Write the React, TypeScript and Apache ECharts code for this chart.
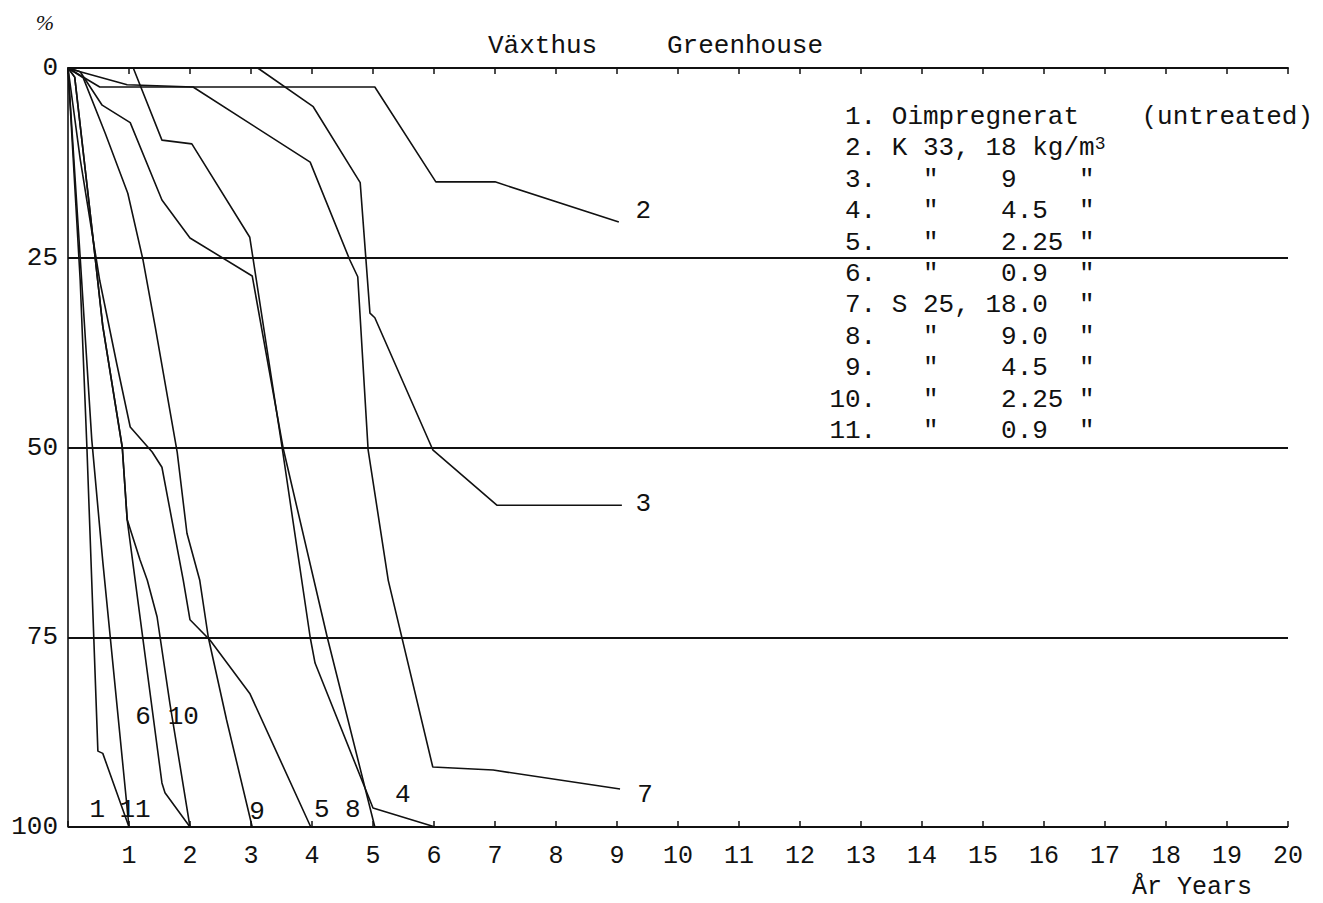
import React, { useEffect, useRef } from "react";
import * as echarts from "echarts";

const FONT = '"Liberation Mono", "DejaVu Sans Mono", monospace';

// x tick labels (years) and y ticks
const xTickLabels = ["", "1", "2", "3", "4", "5", "6", "7", "8", "9", "10", "11", "12", "13", "14", "15", "16", "17", "18", "19", "20"];

// Series: [year, % destroyed]
const s1 = [[0, 0], [0.2, 28], [0.31, 50], [0.49, 90], [0.57, 90.3], [1.0, 100]];
const s2 = [[0, 0], [0.52, 2.5], [5.03, 2.5], [6.03, 15], [7.0, 15], [9.03, 20.3]];
const s3 = [[0, 0], [3.11, 0], [4.02, 5.1], [4.79, 15.1], [4.95, 32.3], [5.03, 32.9], [5.98, 50.3], [7.03, 57.6], [9.08, 57.6]];
const s4 = [[1.07, 0], [1.54, 9.5], [2.03, 10], [2.98, 22.3], [3.51, 50], [3.97, 75], [4.05, 78.4], [5.0, 97.5], [6.02, 100]];
const s5 = [[0, 0], [0.2, 12], [0.52, 28], [0.8, 39], [1.02, 47.3], [1.38, 50.6], [1.54, 52.6], [1.89, 67.5], [2.0, 72.7], [2.33, 75.4], [2.98, 82.4], [3.98, 100]];
const s6 = [[0, 0], [0.11, 1.2], [0.39, 21], [0.57, 34], [0.89, 50], [0.97, 59.5], [1.54, 94.2], [1.59, 95.5], [2.0, 100]];
const s7 = [[0, 0], [0.2, 0.5], [0.97, 2.2], [2.05, 2.5], [3.97, 12.4], [4.62, 25.3], [4.75, 27.5], [4.92, 50.3], [5.25, 67.5], [5.98, 92.1], [6.97, 92.5], [9.05, 95]];
const s8 = [[0, 0], [0.2, 0.5], [0.56, 4.9], [1.02, 7.2], [1.54, 17.4], [2.0, 22.4], [3.02, 27.4], [3.53, 50.2], [4.25, 75], [5.03, 100]];
const s9 = [[0, 0], [0.25, 1.3], [0.61, 8.6], [0.98, 16.5], [1.23, 25.3], [1.43, 34.1], [1.79, 50.6], [1.95, 61.3], [2.16, 67.5], [2.3, 75], [2.6, 85.9], [3.02, 100]];
const s10 = [[0, 0], [0.11, 1.2], [0.39, 21], [0.57, 34], [0.89, 50], [0.97, 59.5], [1.18, 64.8], [1.3, 67.5], [1.46, 72.3], [1.67, 83.7], [2.0, 100]];
const s11 = [[0, 0], [0.2, 25], [0.39, 49], [0.57, 65], [1.0, 100]];

const allSeries = [s1, s2, s3, s4, s5, s6, s7, s8, s9, s10, s11];

// curve number labels, placed in data coordinates
const curveLabelText = ["1", "11", "6", "10", "9", "5", "8", "4", "2", "3", "7"];
const curveLabelPos = [[0.48, 97.8], [1.1, 97.8], [1.23, 85.5], [1.89, 85.5], [3.1, 98], [4.16, 97.8], [4.67, 97.8], [5.49, 95.8], [9.43, 18.8], [9.43, 57.4], [9.46, 95.8]];

// legend text lines (monospace columns)
const legendLines = [
  " 1. Oimpregnerat    (untreated)",
  " 2. K 33, 18 kg/m{sup|3}",
  " 3.   \"    9    \"",
  " 4.   \"    4.5  \"",
  " 5.   \"    2.25 \"",
  " 6.   \"    0.9  \"",
  " 7. S 25, 18.0  \"",
  " 8.   \"    9.0  \"",
  " 9.   \"    4.5  \"",
  "10.   \"    2.25 \"",
  "11.   \"    0.9  \"",
];

export default function App() {
  const ref = useRef<HTMLDivElement>(null);

  useEffect(() => {
    if (!ref.current) return;
    const chart = echarts.init(ref.current, null, { renderer: "svg" });

    const lineSeries = allSeries.map((d, i) => ({
      type: "line",
      name: "s" + (i + 1),
      data: d,
      symbol: "none",
      silent: true,
      lineStyle: { color: "#111", width: 1.6 },
      z: 3,
    }));

    const graphics: any[] = [];
    graphics.push({
      type: "text",
      x: 45,
      y: 22,
      style: { text: "%", fontSize: 22, fontFamily: "serif", fontStyle: "italic", fill: "#111", textAlign: "center", textVerticalAlign: "middle" },
    });
    graphics.push({
      type: "text",
      x: 488,
      y: 46,
      style: { text: "Växthus", fontSize: 26, fontFamily: FONT, fill: "#111", textAlign: "left", textVerticalAlign: "middle" },
    });
    graphics.push({
      type: "text",
      x: 667,
      y: 46,
      style: { text: "Greenhouse", fontSize: 26, fontFamily: FONT, fill: "#111", textAlign: "left", textVerticalAlign: "middle" },
    });
    graphics.push({
      type: "text",
      x: 1132,
      y: 887,
      style: { text: "År\u00A0Years", fontSize: 25, fontFamily: FONT, fill: "#111", textAlign: "left", textVerticalAlign: "middle" },
    });
    legendLines.forEach((t, i) => {
      graphics.push({
        type: "text",
        x: 829.4,
        y: 117 + 31.4 * i,
        style: {
          text: t.replace(/ /g, "\u00A0"),
          fontSize: 26,
          fontFamily: FONT,
          fill: "#111",
          textAlign: "left",
          textVerticalAlign: "middle",
          rich: {
            sup: { fontSize: 18, fontFamily: FONT, fill: "#111", verticalAlign: "top", padding: [0, 0, 8, 0] },
          },
        },
      });
    });

    const option: any = {
      animation: false,
      backgroundColor: "#fff",
      grid: { left: 68, right: 35, top: 68, bottom: 76 },
      xAxis: [
        {
          type: "value",
          min: 0,
          max: 20,
          interval: 1,
          axisLine: { show: true, lineStyle: { color: "#111", width: 2 } },
          axisTick: { show: true, length: 6, lineStyle: { color: "#111", width: 1.5 } },
          axisLabel: {
            margin: 17,
            fontFamily: FONT,
            fontSize: 25,
            color: "#111",
            formatter: (v: number) => xTickLabels[Math.round(v)] ?? "",
          },
          splitLine: { show: false },
        },
        {
          type: "value",
          min: 0,
          max: 20,
          interval: 1,
          position: "bottom",
          axisLine: { show: false },
          axisTick: { show: true, inside: true, length: 6, lineStyle: { color: "#111", width: 1.5 } },
          axisLabel: { show: false },
          splitLine: { show: false },
        },
      ],
      yAxis: {
        type: "value",
        inverse: true,
        min: 0,
        max: 100,
        interval: 25,
        axisLine: { show: true, lineStyle: { color: "#111", width: 1.6 } },
        axisTick: { show: false },
        axisLabel: { margin: 10, fontFamily: FONT, fontSize: 26, color: "#111" },
        splitLine: { show: true, lineStyle: { color: "#111", width: 2 } },
      },
      series: [
        ...lineSeries,
        {
          type: "scatter",
          silent: true,
          symbolSize: 1,
          itemStyle: { color: "rgba(0,0,0,0)", opacity: 1 },
          data: curveLabelPos.map((p, i) => [p[0], p[1], curveLabelText[i]]),
          label: {
            show: true,
            position: "inside",
            formatter: (p: any) => p.data[2],
            fontFamily: FONT,
            fontSize: 26,
            color: "#111",
            opacity: 1,
            textBorderWidth: 0,
          },
          z: 5,
        },
      ],
      graphic: graphics,
    };

    chart.setOption(option);
    return () => chart.dispose();
  }, []);

  return (
    <div
      ref={ref}
      style={{ position: "fixed", left: 0, top: 0, width: 1323, height: 903, background: "#fff" }}
    />
  );
}
